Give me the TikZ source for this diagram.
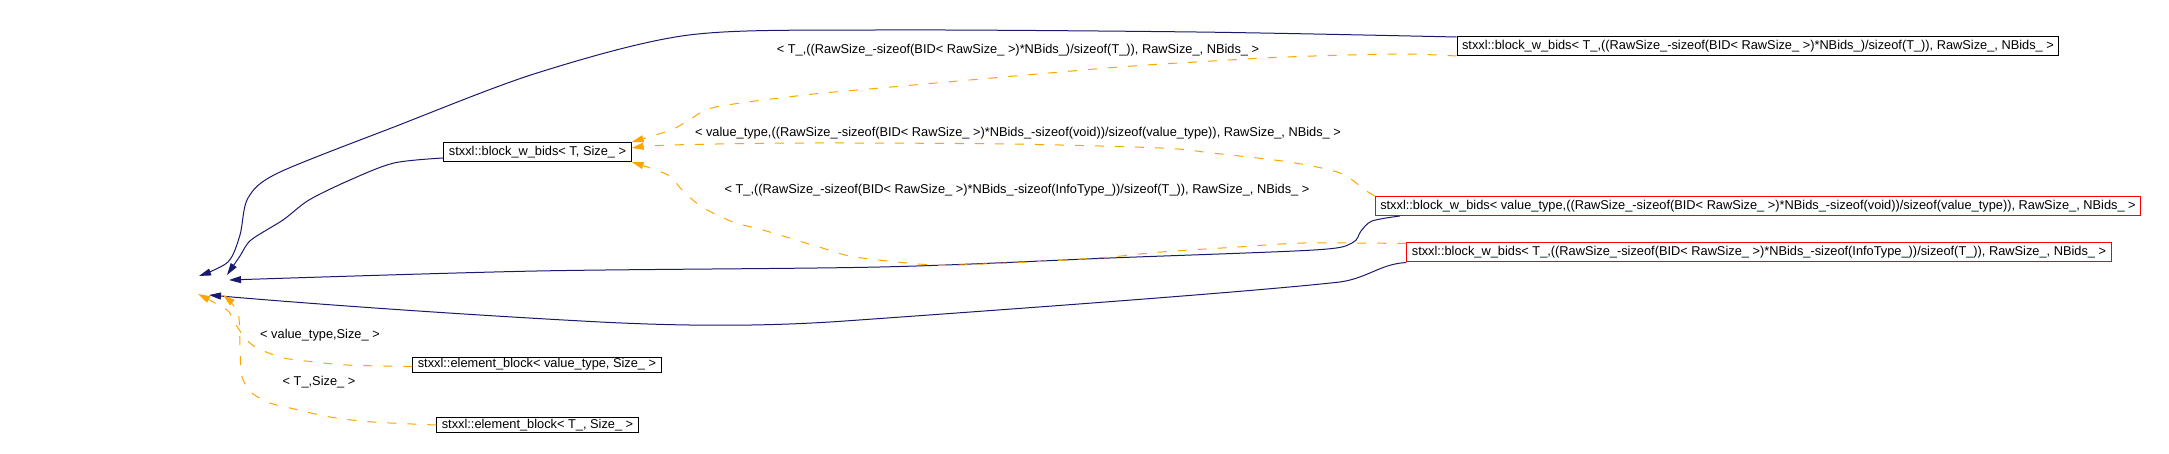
\documentclass[tikz,border=0pt]{standalone}
\usepackage{fontspec}
\setmainfont{Liberation Sans}
\usetikzlibrary{arrows.meta}
\definecolor{navyedge}{HTML}{191970}
\definecolor{orangeedge}{HTML}{FFA500}
\tikzset{
  cls/.style={draw=black, line width=1pt, fill=white, font=\fontsize{12.8}{14}\selectfont,
    inner xsep=5pt, inner ysep=0pt, minimum height=19pt},
  redcls/.style={cls, draw=red},
  lowcls/.style={cls, minimum height=15pt},
  lbl/.style={font=\fontsize{12.8}{14}\selectfont, inner sep=0pt},
  inh/.style={draw=navyedge, line width=1pt, -{Triangle[length=12pt,width=7pt]}},
  tmpl/.style={draw=orangeedge, line width=1pt, dash pattern=on 9pt off 11pt,
    -{Triangle[length=12pt,width=7pt]}},
}
\begin{document}
\begin{tikzpicture}[x=1pt,y=-1pt]
\fill[white] (0,0) rectangle (2169,454);
\useasboundingbox (0,0) rectangle (2169,454);

% nodes
\node[cls] (A) at (1758,46) {stxxl::block\_w\_bids< T\_,((RawSize\_-sizeof(BID< RawSize\_ >)*NBids\_)/sizeof(T\_)), RawSize\_, NBids\_ >};
\node[cls] (B) at (537.5,152.5) {stxxl::block\_w\_bids< T, Size\_ >};
\node[redcls] (C) at (1758,206) {stxxl::block\_w\_bids< value\_type,((RawSize\_-sizeof(BID< RawSize\_ >)*NBids\_-sizeof(void))/sizeof(value\_type)), RawSize\_, NBids\_ >};
\node[redcls] (D) at (1759,252.5) {stxxl::block\_w\_bids< T\_,((RawSize\_-sizeof(BID< RawSize\_ >)*NBids\_-sizeof(InfoType\_))/sizeof(T\_)), RawSize\_, NBids\_ >};
\node[lowcls] (E) at (537,364.5) {stxxl::element\_block< value\_type, Size\_ >};
\node[lowcls] (F) at (537.5,425) {stxxl::element\_block< T\_, Size\_ >};

% edge labels
\node[lbl] (lAB) at (1018,50) {< T\_,((RawSize\_-sizeof(BID< RawSize\_ >)*NBids\_)/sizeof(T\_)), RawSize\_, NBids\_ >};
\node[lbl] (lCB) at (1018,133) {< value\_type,((RawSize\_-sizeof(BID< RawSize\_ >)*NBids\_-sizeof(void))/sizeof(value\_type)), RawSize\_, NBids\_ >};
\node[lbl] (lDB) at (1017,190) {< T\_,((RawSize\_-sizeof(BID< RawSize\_ >)*NBids\_-sizeof(InfoType\_))/sizeof(T\_)), RawSize\_, NBids\_ >};
\node[lbl] (lE) at (320,335) {< value\_type,Size\_ >};
\node[lbl] (lF) at (319,382) {< T\_,Size\_ >};

% arrow end points at the (empty) base class
\coordinate (tipA) at (199,276);
\coordinate (tipB) at (227,275);
\coordinate (tipC) at (229,280);
\coordinate (tipD) at (209,295);
\coordinate (tipE) at (198,294);
\coordinate (tipF) at (223,295);

% inheritance edges (navy)
\draw[inh] plot[smooth, tension=0.5] coordinates {([yshift=-1pt]A.north west) (1196,32) (876,30) (689,35) (537,73) (394,127) (278,173) (248,198) (240,235) (228,262) (tipA)};
\draw[inh] plot[smooth, tension=0.5] coordinates {([yshift=-5.5pt]B.west) (394,163) (350,180) (309,200) (283,220) (251,240) (240,256) (tipB)};
\draw[inh] plot[smooth, tension=0.5] coordinates {([xshift=25pt]C.south west) (1372,221) (1361,231) (1352,243) (1314,250) (1110,258) (880,267) (537,271) (tipC)};
\draw[inh] (D.south west) .. controls (1380,264) and (1368,278) .. (1340,282)
  .. controls (1250,292) and (1000,310) .. (845,321)
  .. controls (760,327) and (680,326) .. (600,322)
  .. controls (450,314) and (300,303) .. (tipD);

% template instantiation edges (orange, dashed)
\draw[tmpl] plot[smooth, tension=0.5] coordinates {(A.south west) (1397,54) (1286,57) (1196,62) (1107,68) (880,88) (805,95) (716,107) (689,120) (671,130) ([yshift=10.5pt]B.east)};
\draw[tmpl] plot[smooth, tension=0.5] coordinates {(C.north west) (1365,190) (1340,173) (1289,162) (1212,153) (1161,148) (1008,144) (804,143) (671,145) ([yshift=4.5pt]B.east)};
\draw[tmpl] plot[smooth, tension=0.5] coordinates {([yshift=-1pt]D.north west) (1304,243) (1238,247) (1161,252) (1110,257) (1049,261) (983,264) (932,265) (855,257) (819,247) (763,230) (733,222) (702,207) (682,190) (668,175) ([yshift=-9.5pt]B.east)};
\draw[tmpl] plot[smooth, tension=0.5] coordinates {([yshift=-2pt]E.west) (347,365) (297,360) (280,357) (257,348) (245,338) (233,320) (227,310) (tipE)};
\draw[tmpl] plot[smooth, tension=0.5] coordinates {(F.west) (373,422) (330,417) (290,408) (270,403) (252,393) (242,377) (240,350) (238,313) (tipF)};
\end{tikzpicture}
\end{document}
